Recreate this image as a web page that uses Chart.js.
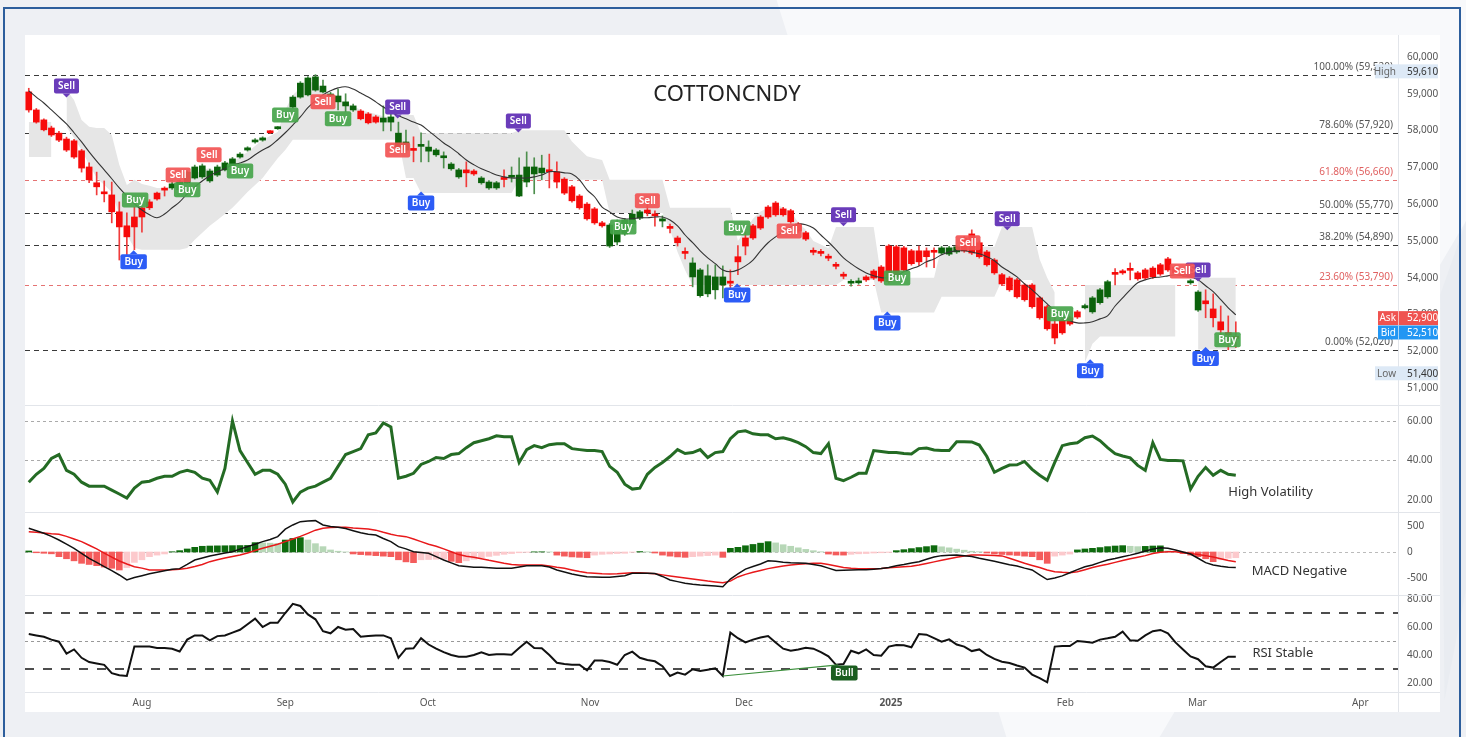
<!DOCTYPE html>
<html>
<head>
<meta charset="utf-8">
<script src="https://cdn.jsdelivr.net/npm/chart.js@4.4.1/dist/chart.umd.min.js"></script>
<style>
  html, body { margin: 0; padding: 0; width: 1466px; height: 737px; overflow: hidden; background: #eef0f4; }
  .deco { position: absolute; background: #f8f9fb; }
  #frame { position: absolute; left: 3px; top: 7px; width: 1458px; height: 740px; border: 2px solid #2d5e9c; box-sizing: border-box; }
  #panel { position: absolute; left: 25px; top: 35px; width: 1415px; height: 677px; background: #fff; }
</style>
</head>
<body>
<div class="deco" style="left:700px;top:0;width:766px;height:737px;clip-path:polygon(10% 0,100% 0,100% 30%,60% 100%,40% 100%);"></div>
<div class="deco" style="left:1380px;top:0;width:86px;height:737px;background:#e9ecf1;clip-path:polygon(70% 40%,100% 30%,100% 80%,75% 95%);"></div>
<div id="frame"></div>
<div id="panel"><canvas id="chart" width="1415" height="677"></canvas></div>
<script>
// candles (one per trading day, Jul 2024 - Mar 2025)
const opens = [
  59050,58560,58290,58070,57930,57770,57720,57450,57010,56580,
  56300,56250,55790,55410,55380,55650,55900,56140,56380,56440,
  56390,56580,56710,56740,56900,56790,56930,57040,57280,57470,
  57690,57740,57940,58050,58370,58640,58910,58970,59100,59210,
  58990,58940,58780,58670,58530,58450,58370,58230,58230,57930,
  57690,57480,57570,57440,57470,57310,57090,56930,56930,56900,
  56580,56440,56440,56690,56730,56220,56600,56820,56850,56930,
  56880,56680,56470,56220,56000,55870,55490,54860,54970,55190,
  55460,55620,55840,55730,55540,55360,55080,54680,54020,53510,
  53560,53670,53800,53870,54430,54860,55080,55350,55650,55710,
  55870,55820,55460,55220,54710,54680,54550,54330,54060,53850,
  53860,54020,54180,54290,54860,54840,54810,54730,54730,54730,
  54710,54670,54640,54700,55080,55190,54950,54700,54480,54080,
  53990,53940,53800,53800,53450,53210,52740,52850,52910,53070,
  53180,53070,53320,53480,54110,54180,54220,54130,54210,54260,
  54350,54510,54290,54130,53860,53120,53370,53150,52800,52500,
  52370
];
const highs = [
  59150,58600,58320,58120,57980,57820,57760,57490,57120,56870,
  56630,56600,56060,55760,55920,55920,56120,56330,56470,56600,
  56650,56900,57060,57090,56950,57060,57160,57270,57400,57560,
  57780,57830,58000,58110,58490,58950,59330,59470,59520,59370,
  59040,59130,59000,58720,58570,58490,58410,58670,58670,58230,
  58010,57830,57940,57720,57510,57420,57130,56970,57150,56940,
  56750,56640,56620,56930,57010,57260,57420,57260,57330,57360,
  57150,56720,56510,56260,56040,55910,55530,55470,55570,55610,
  55840,55830,56010,55820,55680,55460,55130,54810,54540,54250,
  54350,54350,54320,54210,54870,55250,55450,55690,55960,56070,
  55910,55860,55500,55260,54810,54770,54640,54420,54150,53950,
  53990,54060,54220,54330,54900,54880,54850,54770,54860,54810,
  54810,54850,54850,54880,55120,55300,55000,54740,54520,54120,
  54030,53980,53840,53840,53490,53250,52930,52890,52950,53110,
  53280,53490,53710,53930,54250,54220,54400,54170,54250,54300,
  54390,54550,54330,54170,53950,53650,53670,53560,53230,52960,
  52800
];
const lows = [
  58500,58200,57990,57840,57700,57430,57240,56870,56580,56250,
  56060,55490,54480,54540,54760,55240,55850,56110,56220,56400,
  56350,56560,56680,56700,56590,56750,56900,57000,57250,57440,
  57660,57710,57920,58030,58340,58610,58880,58940,59070,59020,
  58910,58560,58510,58520,58290,58180,58200,57990,57990,57530,
  57390,57150,57150,57150,57300,56980,56920,56700,56470,56780,
  56540,56400,56400,56470,56600,56200,56470,56280,56660,56440,
  56440,56260,56050,55860,55560,55450,55370,54820,54890,55150,
  55380,55580,55680,55400,55380,55220,54860,54510,53750,53470,
  53480,53420,53450,53720,54080,54620,55040,55310,55610,55670,
  55670,55480,55230,55010,54620,54590,54460,54240,53970,53770,
  53820,53900,53950,53870,53850,53980,54170,54340,54330,54290,
  54270,54630,54600,54660,54690,54630,54530,54310,54090,53790,
  53630,53440,53360,53170,52870,52570,52200,52460,52700,52890,
  53150,53030,53280,53440,53800,54090,53940,53930,53950,53980,
  54060,54170,54090,54040,53820,53080,52910,52660,52290,52040,
  52100
];
const closes = [
  58560,58230,58020,57880,57740,57470,57280,56980,56660,56470,
  56280,55790,55380,55110,55650,55900,56060,56300,56400,56550,
  56600,56870,57010,57040,56630,57010,57120,57230,57360,57530,
  57740,57800,57980,58090,58450,58910,59290,59430,59460,59050,
  58940,58780,58670,58560,58320,58210,58230,58340,58370,57550,
  57470,57460,57590,57550,57340,57260,56960,56740,56850,56820,
  56710,56600,56580,56670,56750,56790,57010,57010,56980,56880,
  56600,56300,56090,55900,55600,55490,55410,55430,55460,55570,
  55730,55790,55760,55680,55600,55340,54950,54660,54400,54210,
  54050,54020,54020,53850,54570,55080,55410,55650,55920,56030,
  55710,55520,55270,55050,54690,54660,54530,54310,54040,53870,
  53910,53940,53990,53910,53890,54020,54210,54380,54430,54570,
  54690,54810,54810,54840,54730,54670,54570,54350,54130,53830,
  53670,53480,53400,53210,52910,52610,52360,52500,52740,52930,
  53240,53450,53670,53890,54090,54130,54200,53970,53990,54020,
  54100,54210,54130,54080,53910,53610,53290,52910,52580,52450,
  52350
];
// signal state of each candle: r = bearish colouring, g = bullish colouring
const trend = (
  'rrrrrrrrrrrrrrrrrrr' + 'ggggggggggggg' + 'r' + 'ggggggggggg' + 'rrr' + 'gggg' + 'r' +
  'gggggg' + 'rr' + 'ggg' + 'r' + 'ggggg' + 'rrrrrrrr' + 'ggggg' + 'rr' + 'g' + 'rrr' +
  'ggggg' + 'rrrrrrrrrrrrrrrr' + 'gg' + 'rrrrrrrrrr' + 'ggg' + 'rrrrrrrrrrrrrrrr' +
  'gggg' + 'rrrrrrrrrr' + 'gg' + 'rrrrr'
).split('');

const maLine = [
  59080,58910,58750,58560,58370,58180,57940,57690,57420,57170,
  56930,56690,56440,56220,56010,55840,55710,55630,55730,55900,
  56060,56280,56470,56630,56770,56880,56960,57070,57120,57200,
  57340,57470,57580,57750,57940,58150,58370,58620,58810,58970,
  59080,59160,59190,59130,59020,58910,58780,58640,58510,58400,
  58320,58230,58150,57990,57830,57660,57530,57370,57200,57070,
  56960,56880,56790,56740,56710,56710,56710,56740,56790,56880,
  56880,56850,56820,56660,56390,56200,55920,55790,55650,55600,
  55600,55630,55630,55650,55650,55570,55410,55160,54950,54730,
  54540,54380,54210,54160,54210,54320,54480,54730,54950,55110,
  55250,55380,55460,55440,55350,55160,54970,54760,54540,54380,
  54240,54130,54050,54000,54000,54050,54160,54240,54320,54430,
  54510,54620,54700,54730,54730,54700,54650,54570,54460,54290,
  54160,54020,53830,53670,53480,53290,53100,52960,52830,52770,
  52770,52800,52880,52960,53230,53450,53670,53860,53940,54000,
  54020,54050,54080,54050,54020,53940,53780,53620,53400,53180,
  52990
];
// grey zone behind the candles (low / high), null where absent
const cloudLo = [
  57280,57280,57280,57280,null,58100,57800,57470,57070,56720,
  56520,56330,55710,55160,54810,54760,54760,54760,54760,54760,
  54760,54810,55030,55220,55410,55570,55730,55900,56110,56330,
  56520,56710,56980,57250,57470,57750,57750,57750,57750,57750,
  57750,57750,57750,57750,57750,57750,57750,57750,57750,57750,
  56710,56710,56300,56300,56300,56300,56300,56300,56300,56300,
  56300,56300,56300,56300,56300,56660,56660,56660,56660,56660,
  56660,56660,56660,56660,56660,56660,56660,55760,55760,55760,
  55760,55760,55760,55760,55760,55300,54700,54200,53800,53800,
  53800,53800,53800,53800,53800,53800,53800,53800,53800,53800,
  53800,53800,53800,53800,53800,53800,53800,53800,53940,53940,
  53940,53940,53940,53050,53050,53050,53050,53050,53050,53050,
  53050,53480,53480,53480,53480,53480,53480,53480,53480,53940,
  53940,53940,53940,53940,53000,52700,52500,null,null,null,
  51700,52200,52400,52400,52400,52400,52400,52400,52400,52400,
  52400,52400,52400,null,null,52050,52050,52050,52050,52050,
  52050
];
const cloudHi = [
  58230,58230,58230,58230,null,59100,58830,58290,58100,58070,
  58070,57880,57070,56520,56660,56550,56500,56440,56440,56500,
  56600,56660,56820,56930,56980,56870,56980,57150,57280,57420,
  57580,57750,57850,57960,58560,58970,59160,59380,59240,59100,
  58970,58830,58750,58670,58560,58500,58450,58390,58340,58420,
  58420,58420,57930,57930,57930,57930,57930,57930,57930,57930,
  57930,57930,57930,57930,57930,58010,58010,58010,58010,58010,
  58010,58010,57700,57500,57300,57250,57200,56660,56660,56660,
  56660,56660,56660,56660,56660,55900,55900,55900,55900,55900,
  55900,55900,55900,55900,55000,55300,55600,55800,55900,56000,
  55900,55800,55500,55300,55000,54900,54800,55380,55380,55380,
  55380,55380,55380,54000,54000,54000,54000,54000,54000,54000,
  54000,54840,54840,54840,54840,54840,54840,54840,54840,55380,
  55380,55380,55380,55380,54500,54000,53600,null,null,null,
  53800,53800,53800,53800,53800,53800,53800,53800,53800,53800,
  53800,53800,53800,null,null,54000,54000,54000,54000,54000,
  54000
];

const volatility = [
  29,33,36,41,43,35,33,29,27,27,
  27,25,23,21,26,29,29.5,31,32,32,
  34,35,34,31,30,24,36,60,45,39,
  33,35,35,33,28,19,24,26,27,29,
  31,37,43,44.5,46,53,54,59,57,31,
  32,33.5,38,39.5,41.5,41,43,43.5,46.5,49,
  50,51,52.5,52,52,39,45.5,47.5,46.5,48,
  48.5,48.5,46,45.5,45,45,44.5,37,34,28,
  25.5,26,33,36.5,39,42,45.5,43.5,44,45.5,
  41.5,44,44.5,51,54.5,55,53.5,53,53,51,
  51.5,50.5,49,47,44,43.5,48.5,31,29.8,31.5,
  33.5,33.5,45,44.5,44,44,43.5,43.3,46,46.3,
  45.3,45,45,49.5,49.5,49.4,47.8,42,34,36,
  37.7,37.8,39.5,35.5,32.5,30,39,47.5,48.5,49,
  51.5,52.4,50,46.5,43.5,42.3,41.3,37.5,35,49,
  40.5,40,40,39.8,25.5,32,36.5,32.5,35,33,
  32.5
];
const macd = [
  456,410,360,300,231,150,71,-25,-122,-200,
  -282,-360,-442,-538,-490,-455,-420,-391,-360,-333,
  -320,-240,-154,-115,-77,-50,-20,6,55,103,
  150,199,240,295,440,520,583,595,603,520,
  490,475,450,410,370,340,327,260,200,103,
  60,6,-10,-26,-90,-154,-210,-263,-280,-295,
  -295,-305,-314,-314,-314,-290,-263,-263,-263,-290,
  -346,-385,-423,-450,-474,-480,-487,-487,-470,-455,
  -410,-410,-410,-415,-470,-538,-570,-600,-620,-635,
  -645,-655,-667,-520,-420,-330,-280,-230,-170,-180,
  -195,-205,-210,-218,-240,-265,-310,-355,-350,-346,
  -343,-340,-330,-318,-300,-265,-240,-210,-186,-140,
  -95,-70,-62,-58,-70,-85,-120,-150,-180,-210,
  -245,-270,-310,-346,-440,-530,-500,-460,-400,-340,
  -285,-250,-200,-154,-125,-90,-60,-25,20,55,
  83,70,39,0,-40,-120,-205,-250,-275,-295,
  -300
];
const signal = [
  391,380,365,350,340,300,250,199,130,60,
  -20,-100,-173,-230,-282,-310,-346,-346,-346,-340,
  -330,-314,-280,-240,-186,-150,-115,-85,-58,-20,
  30,71,110,150,199,250,300,359,420,456,
  470,475,475,460,450,442,420,378,340,310,
  295,250,199,150,110,60,6,-50,-80,-103,
  -130,-160,-186,-215,-240,-250,-250,-250,-250,-270,
  -295,-314,-345,-375,-397,-410,-420,-423,-420,-410,
  -398,-400,-410,-420,-440,-460,-480,-500,-520,-540,
  -560,-575,-590,-560,-480,-430,-390,-355,-320,-295,
  -270,-250,-235,-225,-218,-218,-240,-270,-300,-314,
  -320,-322,-322,-318,-305,-295,-285,-275,-250,-220,
  -190,-160,-130,-100,-75,-60,-58,-62,-66,-75,
  -120,-170,-218,-260,-300,-345,-378,-390,-397,-380,
  -340,-300,-265,-237,-200,-165,-130,-100,-70,-30,
  -5,6,3,-13,-30,-50,-70,-95,-130,-165,
  -186
];
const histogram = [
  20,-15,-25,-35,-90,-130,-170,-218,-240,-263,
  -290,-314,-346,-300,-200,-150,-90,-60,-38,5,
  26,58,90,110,115,118,120,122,124,126,
  180,175,170,165,230,260,276,231,160,103,
  39,15,2,-38,-50,-60,-70,-80,-90,-150,
  -190,-205,-150,-145,-140,-135,-180,-205,-170,-140,
  -110,-85,-65,-45,-30,-15,-5,3,4,2,
  -60,-80,-95,-103,-110,-60,-45,-38,-30,-25,
  -5,8,5,-20,-60,-80,-95,-103,-90,-80,
  -70,-60,-103,71,90,120,145,170,199,175,
  140,110,80,50,25,5,-40,-58,-60,-45,
  -35,-30,-20,-15,-8,26,45,65,85,103,
  122,100,80,55,35,15,5,-20,-38,-48,
  -58,-66,-80,-90,-150,-218,-80,-60,-40,40,
  58,70,85,103,115,122,110,103,108,115,
  118,20,5,-30,-60,-90,-130,-186,-150,-120,
  -110
];
const rsi = [
  55,54,53,51,49.5,41,44,38,35,34,
  33,27,25.5,25,46,46,46,45,45,44.5,
  42.5,51,54,54,50.5,53.5,54,56,58,62,
  66,60,63,63,70,76.5,75,69,65.5,57,
  55.5,60,58,58.5,53,53.5,54,54,52,38,
  44.5,44.8,52,47.5,44.5,42,40,38.8,38.8,40,
  42,40,40.5,40.5,40.2,45,49.5,45,44.8,40,
  34.5,33.5,33,33,29,36,36,35,33,40,
  42.4,38,36.5,35.5,32,25,27.5,26,29.8,28.5,
  29.5,30.5,25,56,52,49,51,52.5,53.5,49,
  44.5,43,44,45.2,44.5,42,39,33,33.6,43,
  41.2,44,40,39.5,46,47.1,47,45.5,55,54.5,
  52,49.5,51.2,47.5,46,42.8,44,40,37.2,35.2,
  34.3,32.5,31,26,23.5,20.5,46,46.4,46.4,50,
  49.5,48.8,51,51.9,53,56.7,50.5,50.2,54,57,
  57.9,55.5,49,44,39,37,32,31,35,38.8,
  38.8
];

// Buy / Sell tags: P purple sell, B blue buy, R red sell, G green buy
const tagIdx   = [5, 48.9, 64.9, 108, 129.7, 155, 13.9, 52, 93.9, 113.8, 140.7, 156,
                  19.8, 23.9, 39, 48.9, 82, 100.8, 124.5, 152.9,
                  14.1, 21, 28, 34, 41, 78.8, 93.9, 115.1, 136.7, 158.9];
const tagPrice = [59210, 58640, 58260, 55710, 55600, 54210, 54430, 56030, 53530, 52770, 51470, 51800,
                  56790, 57340, 58780, 57470, 56090, 55270, 54950, 54180,
                  56110, 56390, 56900, 58420, 58320, 55380, 55350, 53990, 53020, 52310];
const tagKind  = ['P','P','P','P','P','P','B','B','B','B','B','B',
                  'R','R','R','R','R','R','R','R',
                  'G','G','G','G','G','G','G','G','G','G'];

const fibPct = [100, 78.6, 61.8, 50, 38.2, 23.6, 0];
const fibVal = [59520, 57920, 56660, 55770, 54890, 53790, 52020];

const badgeLabel = ['High', 'Ask', 'Bid', 'Low'];
const badgeValue = [59610, 52900, 52510, 51400];

const monthIdx = [15.0, 34.0, 52.9, 74.4, 94.8, 114.3, 137.4, 154.9, 176.5];
const monthLabels = ['Aug', 'Sep', 'Oct', 'Nov', 'Dec', '2025', 'Feb', 'Mar', 'Apr'];

const priceTicks = [51000, 52000, 53000, 54000, 55000, 56000, 57000, 58000, 59000, 60000];
const volTicks = [20, 40, 60];
const macdTicks = [-500, 0, 500];
const rsiTicks = [20, 40, 60, 80];

// bullish divergence on RSI
const divIdx = [92, 107.3];
const divVal = [25, 33];

const FONT = '"Noto Sans", "Liberation Sans", sans-serif';
Chart.defaults.font.family = FONT;
Chart.defaults.font.size = 10;
Chart.defaults.color = '#555';

const days = opens.map((_, i) => i);

function line(ctx, x1, y1, x2, y2, color, width, dash) {
  ctx.beginPath();
  ctx.setLineDash(dash || []);
  ctx.strokeStyle = color;
  ctx.lineWidth = width;
  ctx.moveTo(x1, y1);
  ctx.lineTo(x2, y2);
  ctx.stroke();
  ctx.setLineDash([]);
}

function tag(ctx, x, y, text, bg, pointer) {
  ctx.font = '600 10px ' + FONT;
  const w = ctx.measureText(text).width + 8, h = 15;
  ctx.fillStyle = bg;
  ctx.beginPath();
  ctx.roundRect(x - w / 2, y - h / 2, w, h, 2);
  ctx.fill();
  if (pointer === 'down') {
    ctx.beginPath();
    ctx.moveTo(x - 4, y + h / 2); ctx.lineTo(x + 4, y + h / 2); ctx.lineTo(x, y + h / 2 + 4);
    ctx.fill();
  } else if (pointer === 'up') {
    ctx.beginPath();
    ctx.moveTo(x - 4, y - h / 2); ctx.lineTo(x + 4, y - h / 2); ctx.lineTo(x, y - h / 2 - 4);
    ctx.fill();
  }
  ctx.fillStyle = '#fff';
  ctx.textAlign = 'center';
  ctx.textBaseline = 'middle';
  ctx.fillText(text, x, y + 0.5);
}

const overlay = {
  id: 'overlay',
  beforeDatasetsDraw(chart) {
    const { ctx, chartArea: a, scales: s } = chart;
    ctx.save();
    // panel separators and axis border
    [s.yVol.top, s.yMacd.top, s.yRsi.top, s.yRsi.bottom].forEach(y => {
      line(ctx, 0, Math.round(y) + 0.5, chart.width, Math.round(y) + 0.5, '#e2e5ea', 1);
    });
    line(ctx, Math.round(a.right) + 0.5, 0, Math.round(a.right) + 0.5, chart.height, '#e2e5ea', 1);
    // fibonacci levels
    fibVal.forEach((v, k) => {
      const y = Math.round(s.yPrice.getPixelForValue(v)) + 0.5;
      const red = fibPct[k] === 61.8 || fibPct[k] === 23.6;
      line(ctx, a.left, y, a.right, y, red ? '#e57373' : '#3a3a3a', 1, red ? [4, 4] : [5, 4]);
    });
    // indicator guide lines
    [60, 40].forEach(v => {
      const y = Math.round(s.yVol.getPixelForValue(v)) + 0.5;
      line(ctx, a.left, y, a.right, y, '#aaa', 1, [3, 3]);
    });
    const z = Math.round(s.yMacd.getPixelForValue(0)) + 0.5;
    line(ctx, a.left, z, a.right, z, '#bbb', 1, [3, 3]);
    [70, 30].forEach(v => {
      const y = Math.round(s.yRsi.getPixelForValue(v));
      line(ctx, a.left, y, a.right, y, '#222', 1.6, [9, 9]);
    });
    const m = Math.round(s.yRsi.getPixelForValue(50)) + 0.5;
    line(ctx, a.left, m, a.right, m, '#999', 1, [3, 3]);
    ctx.restore();
  },
  afterDatasetsDraw(chart) {
    const { ctx, chartArea: a, scales: s } = chart;
    const X = v => s.x.getPixelForValue(v);
    ctx.save();
    // fib labels
    ctx.font = '10px ' + FONT;
    ctx.textAlign = 'right';
    ctx.textBaseline = 'alphabetic';
    fibVal.forEach((v, k) => {
      const y = s.yPrice.getPixelForValue(v);
      const red = fibPct[k] === 61.8 || fibPct[k] === 23.6;
      ctx.fillStyle = red ? '#e06060' : '#555';
      ctx.fillText(fibPct[k].toFixed(2) + '% (' + v.toLocaleString('en-US') + ')', a.right - 5, y - 5);
    });
    // title
    ctx.fillStyle = '#222';
    ctx.font = '22px ' + FONT;
    ctx.textAlign = 'center';
    ctx.fillText('COTTONCNDY', 702, 66);
    // signal tags
    const colors = { P: '#6a3cba', B: '#2c5cf6', R: 'rgba(242,84,84,0.92)', G: 'rgba(70,165,75,0.92)' };
    tagKind.forEach((k, i) => {
      const text = (k === 'P' || k === 'R') ? 'Sell' : 'Buy';
      const pointer = k === 'P' ? 'down' : (k === 'B' ? 'up' : null);
      tag(ctx, X(tagIdx[i]), s.yPrice.getPixelForValue(tagPrice[i]), text, colors[k], pointer);
    });
    // RSI divergence
    line(ctx, X(divIdx[0]), s.yRsi.getPixelForValue(divVal[0]), X(divIdx[1]), s.yRsi.getPixelForValue(divVal[1]), '#3b8f3b', 1.2);
    tag(ctx, X(108.1), s.yRsi.getPixelForValue(27.1), 'Bull', '#1b5e20', null);
    // indicator captions
    ctx.fillStyle = '#333';
    ctx.font = '13px ' + FONT;
    ctx.textAlign = 'left';
    ctx.textBaseline = 'middle';
    ctx.fillText('High Volatility', X(159), s.yVol.getPixelForValue(24));
    ctx.fillText('MACD Negative', X(162.1), s.yMacd.getPixelForValue(-365));
    ctx.fillText('RSI Stable', X(162.2), s.yRsi.getPixelForValue(41.4));
    // price badges
    const bg = { High: '#dde9f6', Low: '#dde9f6', Ask: '#ef5350', Bid: '#2196f3' };
    badgeLabel.forEach((lab, k) => {
      const y = s.yPrice.getPixelForValue(badgeValue[k]);
      const light = lab === 'High' || lab === 'Low';
      const left = a.right - (light ? 23 : 20);
      ctx.fillStyle = bg[lab];
      ctx.fillRect(left, y - 7, a.right + 40 - left, 14);
      if (!light) {
        ctx.fillStyle = 'rgba(255,255,255,0.6)';
        ctx.fillRect(a.right, y - 7, 1, 14);
      }
      ctx.font = '10px ' + FONT;
      ctx.textBaseline = 'middle';
      ctx.textAlign = 'right';
      ctx.fillStyle = light ? '#666' : '#fff';
      ctx.fillText(lab, a.right - 2, y + 0.5);
      ctx.textAlign = 'left';
      ctx.fillStyle = light ? '#333' : '#fff';
      ctx.fillText(badgeValue[k].toLocaleString('en-US'), a.right + 9, y + 0.5);
    });
    ctx.restore();
  }
};

function noPad(sc) {
  sc.paddingTop = 0; sc.paddingBottom = 0; sc.paddingLeft = 0; sc.paddingRight = 0;
}

function yAxis(weight, min, max, ticks, fmt) {
  return {
    type: 'linear', position: 'right', stack: 'panes', stackWeight: weight,
    min: min, max: max,
    grid: { display: false, drawTicks: false }, border: { display: false },
    afterBuildTicks: sc => { sc.ticks = ticks.map(v => ({ value: v })); },
    afterFit: sc => { sc.width = 42; noPad(sc); },
    ticks: { autoSkip: false, padding: 9, color: '#555', font: { size: 10 }, callback: fmt }
  };
}

const histColor = c => {
  const i = c.dataIndex, v = histogram[i], p = i > 0 ? histogram[i - 1] : 0;
  if (v >= 0) return v >= p ? '#0d6a0d' : '#b7d7b7';
  return v <= p ? '#f45c5c' : '#fcc9cc';
};

new Chart(document.getElementById('chart'), {
  data: {
    labels: days,
    datasets: [
      { type: 'line', yAxisID: 'yPrice', data: cloudHi, borderWidth: 0, borderColor: 'rgba(0,0,0,0)',
        pointRadius: 0, fill: '+1', backgroundColor: '#e6e6e6', spanGaps: false, order: 11 },
      { type: 'line', yAxisID: 'yPrice', data: cloudLo, borderWidth: 0, borderColor: 'rgba(0,0,0,0)',
        pointRadius: 0, fill: false, spanGaps: false, order: 10 },
      { type: 'bar', yAxisID: 'yPrice', data: lows.map((l, i) => [l, highs[i]]),
        backgroundColor: c => trend[c.dataIndex] === 'g' ? '#4d8f4d' : '#f03c3c', barThickness: 1, grouped: false, order: 6 },
      { type: 'bar', yAxisID: 'yPrice', data: opens.map((o, i) => [o, closes[i]]),
        backgroundColor: c => trend[c.dataIndex] === 'g' ? '#0b620b' : '#f70a0a', barThickness: 6, minBarLength: 2, grouped: false, order: 5 },
      { type: 'line', yAxisID: 'yPrice', data: maLine, borderColor: '#333', borderWidth: 1.1, tension: 0.4, pointRadius: 0, order: 4 },
      { type: 'line', yAxisID: 'yVol', data: volatility, borderColor: '#246b24', borderWidth: 3, pointRadius: 0, order: 3 },
      { type: 'bar', yAxisID: 'yMacd', data: histogram, backgroundColor: histColor, barThickness: 6, grouped: false, order: 3 },
      { type: 'line', yAxisID: 'yMacd', data: macd, borderColor: '#111', borderWidth: 1.5, pointRadius: 0, order: 2 },
      { type: 'line', yAxisID: 'yMacd', data: signal, borderColor: '#e8191b', borderWidth: 1.5, pointRadius: 0, order: 2 },
      { type: 'line', yAxisID: 'yRsi', data: rsi, borderColor: '#111', borderWidth: 2, pointRadius: 0, order: 2 }
    ]
  },
  options: {
    responsive: false,
    animation: false,
    devicePixelRatio: 1,
    layout: { padding: 0, autoPadding: false },
    plugins: { legend: { display: false }, tooltip: { enabled: false }, filler: { propagate: false } },
    scales: {
      x: {
        type: 'linear', position: 'bottom', min: -0.5, max: 181.5, offset: false,
        grid: { display: false, drawTicks: false, offset: false }, border: { display: false },
        afterBuildTicks: sc => { sc.ticks = monthIdx.map(v => ({ value: v })); },
        afterFit: sc => { sc.height = 20; noPad(sc); },
        ticks: {
          autoSkip: false, maxRotation: 0, padding: 5, color: '#555',
          font: c => ({ size: 10, weight: c.index === 5 ? 'bold' : 'normal' }),
          callback: (v, i) => monthLabels[i]
        }
      },
      yPrice: yAxis(370, 50538, 60598, priceTicks, v => v.toLocaleString('en-US')),
      yVol: yAxis(107, 13.9, 68.1, volTicks, v => v.toFixed(2)),
      yMacd: yAxis(83, -827, 769, macdTicks, v => String(v)),
      yRsi: yAxis(97, 13.57, 82.86, rsiTicks, v => v.toFixed(2))
    }
  },
  plugins: [overlay]
});
</script>
</body>
</html>
